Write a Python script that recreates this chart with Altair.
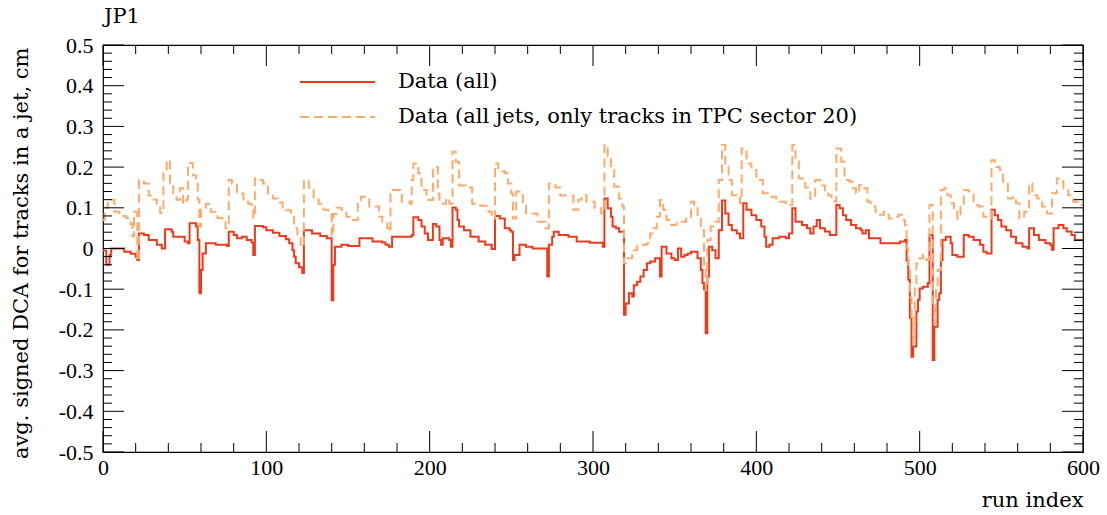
import altair as alt
import pandas as pd

# ---- data (run index, value) knots of step histograms ----
red_runs = [0,2,4,5,13,17,20,21,22,25,28,33,36,38,42,43,50,52,53,57,58,59,60,61,63,69,76,77,80,82,85,88,91,92,93,98,100,104,108,112,114,116,117,118,120,122,123,128,133,137,140,141,142,146,150,157,165,171,173,175,177,189,190,193,195,197,199,202,204,206,207,208,212,213,214,216,217,218,221,225,230,234,238,240,243,246,249,250,251,252,255,259,263,272,273,275,276,279,285,290,298,305,306,307,309,311,312,314,316,319,320,322,324,325,327,329,331,333,335,338,341,342,345,348,350,352,354,356,358,360,364,366,367,368,369,370,371,373,375,377,379,381,383,385,388,390,392,394,397,400,403,405,406,408,410,414,418,420,422,424,428,431,433,435,437,439,442,445,449,451,453,455,458,461,464,465,467,469,476,488,491,492,493,494,495,496,498,499,500,502,505,506,508,509,511,512,513,514,516,519,520,523,527,530,533,537,539,541,544,546,548,550,553,556,559,563,566,567,570,573,577,580,581,582,585,588,590,593,595,600]
red_vals = [-0.005,-0.04,-0.016,0.0,-0.008,-0.013,-0.02,-0.028,0.037,0.033,0.021,0.009,0.0,0.047,0.041,0.029,0.017,0.013,0.062,0.054,0.021,-0.11,-0.053,-0.012,0.013,0.009,0.006,0.041,0.033,0.025,0.029,0.021,0.015,-0.016,0.055,0.052,0.045,0.039,0.031,0.023,0.013,-0.004,-0.02,-0.036,-0.046,-0.06,0.045,0.037,0.031,0.025,-0.127,-0.04,0.004,0.009,0.006,0.025,0.017,0.015,0.009,0.004,0.029,0.033,0.077,0.07,0.054,0.037,0.021,0.06,0.054,0.021,0.009,0.025,0.021,0.004,0.101,0.095,0.07,0.054,0.045,0.029,0.017,0.009,-0.001,0.08,0.074,0.05,0.045,0.041,-0.028,-0.016,0.009,0.004,0.0,-0.069,0.009,0.029,0.041,0.033,0.029,0.017,0.014,0.014,0.004,0.123,0.099,0.078,0.054,0.05,0.041,-0.163,-0.135,-0.11,-0.118,-0.09,-0.082,-0.069,-0.053,-0.036,-0.032,-0.024,-0.069,0.004,-0.012,-0.024,-0.028,0.0,-0.02,-0.016,-0.012,-0.008,-0.024,-0.053,-0.085,-0.1,-0.208,-0.069,0.004,-0.004,-0.024,0.045,0.118,0.086,0.058,0.045,0.037,0.025,0.111,0.095,0.082,0.07,0.054,0.029,0.004,0.009,0.025,0.029,0.025,0.037,0.099,0.066,0.058,0.05,0.037,0.054,0.07,0.05,0.042,0.033,0.107,0.099,0.082,0.07,0.058,0.05,0.045,0.037,0.045,0.025,0.013,0.017,0.021,-0.03,-0.077,-0.17,-0.266,-0.241,-0.155,-0.126,-0.098,-0.094,-0.085,0.033,-0.274,-0.192,-0.126,-0.11,-0.028,0.021,0.029,0.013,-0.016,-0.02,0.033,0.029,0.021,0.009,-0.008,-0.012,0.095,0.082,0.07,0.054,0.045,0.029,0.013,0.004,0.0,0.05,0.033,0.021,0.013,0.009,-0.003,0.05,0.058,0.05,0.042,0.033,0.021,0.021]

orange_runs = [0,1,3,5,7,10,14,17,18,19,21,22,25,28,31,33,35,37,39,41,43,45,47,49,51,52,55,57,58,59,60,63,66,70,73,75,77,79,82,86,89,91,92,93,95,98,101,104,107,110,112,115,117,119,121,123,126,129,132,135,138,140,141,143,146,149,151,156,158,163,169,171,174,175,176,180,183,188,189,190,193,195,198,202,205,206,210,212,214,216,218,222,226,231,236,238,240,242,246,248,250,251,253,257,259,266,271,273,277,280,284,288,291,293,296,301,305,307,309,311,313,316,318,319,321,324,327,333,335,337,339,341,343,345,347,351,354,357,360,362,364,366,368,369,370,372,375,377,379,381,383,385,388,390,391,394,397,400,404,407,412,414,418,422,424,426,430,433,436,439,442,444,446,448,449,452,454,457,459,461,463,466,468,470,473,475,478,481,484,487,489,491,492,493,494,495,496,497,498,500,502,504,506,508,509,510,511,513,515,517,519,521,523,525,527,530,533,536,539,542,544,546,549,551,554,557,559,561,564,567,569,572,575,578,581,584,588,591,594,598,600]
orange_vals = [0.07,0.1,0.115,0.12,0.09,0.08,0.075,0.06,0.03,0.09,-0.03,0.168,0.16,0.13,0.12,0.11,0.087,0.185,0.217,0.16,0.135,0.12,0.148,0.11,0.12,0.21,0.18,0.16,0.12,0.054,0.1,0.11,0.09,0.075,0.065,0.05,0.168,0.16,0.135,0.115,0.11,0.094,0.075,0.172,0.168,0.16,0.135,0.123,0.113,0.1,0.094,0.078,0.05,0.025,0.005,0.168,0.15,0.12,0.11,0.095,0.09,0.03,0.085,0.1,0.095,0.078,0.07,0.115,0.127,0.103,0.078,0.066,0.05,0.041,0.144,0.144,0.115,0.11,0.168,0.209,0.185,0.144,0.119,0.2,0.135,0.11,0.123,0.11,0.238,0.213,0.155,0.15,0.11,0.105,0.09,0.074,0.209,0.19,0.185,0.16,0.135,0.074,0.14,0.11,0.086,0.066,0.05,0.16,0.15,0.13,0.13,0.095,0.12,0.131,0.115,0.099,0.086,0.254,0.226,0.193,0.152,0.123,0.103,-0.036,-0.024,-0.004,0.009,0.013,0.037,0.05,0.078,0.119,0.095,0.07,0.058,0.062,0.066,0.078,0.115,0.107,0.083,0.045,-0.044,-0.102,0.021,0.054,0.066,0.168,0.254,0.209,0.168,0.131,0.127,0.111,0.246,0.209,0.193,0.168,0.136,0.127,0.123,0.115,0.107,0.254,0.217,0.172,0.15,0.123,0.168,0.155,0.144,0.131,0.123,0.115,0.246,0.213,0.168,0.164,0.148,0.136,0.156,0.148,0.115,0.103,0.09,0.083,0.09,0.074,0.078,0.083,0.07,0.058,0.0,-0.053,-0.12,-0.176,-0.233,-0.085,-0.036,-0.024,-0.016,-0.028,0.107,-0.143,-0.184,-0.102,-0.053,0.144,0.148,0.131,0.111,0.099,0.074,0.103,0.144,0.14,0.107,0.103,0.078,0.074,0.217,0.2,0.193,0.16,0.123,0.127,0.111,0.074,0.09,0.16,0.131,0.123,0.103,0.086,0.136,0.172,0.148,0.131,0.115,0.107,0.107]

x_major = [0, 100, 200, 300, 400, 500, 600]
x_minor = [v for v in range(0, 601, 20) if v % 100 != 0]
y_major = [-0.5, -0.4, -0.3, -0.2, -0.1, 0.0, 0.1, 0.2, 0.3, 0.4, 0.5]
y_minor = [round(-0.5 + 0.02 * i, 2) for i in range(51) if i % 5 != 0]

series_names = ["Data (all)", "Data (all jets, only tracks in TPC sector 20)"]
chart_title = "JP1"

RED = "#ee3a1c"
ORANGE = "#fdaa6a"
NUM_FONT = "Liberation Serif"
TXT_FONT = "DejaVu Serif"
W, H = 980, 407
NFS = 22
TFS = 21

red_df = pd.DataFrame({"run": red_runs, "val": red_vals})
orange_df = pd.DataFrame({"run": orange_runs, "val": orange_vals})

xs = alt.Scale(domain=[0, 600], nice=False, zero=False)
ys = alt.Scale(domain=[-0.5, 0.5], nice=False, zero=False)

x_axis = alt.Axis(values=x_major, ticks=False, domain=False, grid=False,
                  labelFont=NUM_FONT, labelFontSize=NFS, labelColor="black", labelPadding=5,
                  labelFlush=False, title="run index", titleFont=TXT_FONT, titleFontSize=TFS,
                  titleFontWeight="normal", titleColor="black", titleAnchor="end",
                  titleAlign="right", titleX=W, titleY=48, titleBaseline="middle")
y_axis = alt.Axis(values=y_major, ticks=False, domain=False, grid=False,
                  labelFont=NUM_FONT, labelFontSize=NFS, labelColor="black", labelPadding=10,
                  labelFlush=False,
                  labelExpr="datum.value == 0 ? '0' : toString(round(datum.value*10)/10)",
                  title="avg. signed DCA for tracks in a jet, cm", titleFont=TXT_FONT,
                  titleFontSize=TFS, titleFontWeight="normal", titleColor="black",
                  titleAngle=-90, titleAlign="right", titleBaseline="middle",
                  titleX=-82, titleY=2)

red_line = alt.Chart(red_df).mark_line(interpolate="step-after", color=RED, strokeWidth=2).encode(
    x=alt.X("run:Q", scale=xs, axis=x_axis),
    y=alt.Y("val:Q", scale=ys, axis=y_axis),
)
orange_line = alt.Chart(orange_df).mark_line(interpolate="step-after", color=ORANGE,
                                             strokeWidth=2, strokeDash=[9, 5]).encode(
    x=alt.X("run:Q", scale=xs),
    y=alt.Y("val:Q", scale=ys),
)

xmaj = pd.DataFrame({"p": x_major})
xmin = pd.DataFrame({"p": x_minor})
ymaj = pd.DataFrame({"p": y_major})
ymin = pd.DataFrame({"p": y_minor})

def xticks(df, length):
    top = alt.Chart(df).mark_rule(color="black", strokeWidth=1).encode(
        x=alt.X("p:Q", scale=xs), y=alt.value(0), y2=alt.value(length))
    bot = alt.Chart(df).mark_rule(color="black", strokeWidth=1).encode(
        x=alt.X("p:Q", scale=xs), y=alt.value(H), y2=alt.value(H - length))
    return [top, bot]

def yticks(df, length):
    left = alt.Chart(df).mark_rule(color="black", strokeWidth=1).encode(
        y=alt.Y("p:Q", scale=ys), x=alt.value(0), x2=alt.value(length))
    right = alt.Chart(df).mark_rule(color="black", strokeWidth=1).encode(
        y=alt.Y("p:Q", scale=ys), x=alt.value(W), x2=alt.value(W - length))
    return [left, right]

ticks = xticks(xmaj, 21) + xticks(xmin, 9) + yticks(ymaj, 21) + yticks(ymin, 9)

leg_df = pd.DataFrame({"name": series_names})
leg_red = alt.Chart(leg_df.iloc[[0]]).mark_rule(color=RED, strokeWidth=2).encode(
    x=alt.value(197), x2=alt.value(272), y=alt.value(37))
leg_orange = alt.Chart(leg_df.iloc[[1]]).mark_rule(color=ORANGE, strokeWidth=2, strokeDash=[9, 5]).encode(
    x=alt.value(197), x2=alt.value(272), y=alt.value(72))
leg_t1 = alt.Chart(leg_df.iloc[[0]]).mark_text(align="left", baseline="middle", font=TXT_FONT,
                                               fontSize=TFS, color="black").encode(
    x=alt.value(295), y=alt.value(37), text="name:N")
leg_t2 = alt.Chart(leg_df.iloc[[1]]).mark_text(align="left", baseline="middle", font=TXT_FONT,
                                               fontSize=TFS, color="black").encode(
    x=alt.value(295), y=alt.value(72), text="name:N")

title_df = pd.DataFrame({"t": [chart_title]})
title_mark = alt.Chart(title_df).mark_text(align="left", baseline="middle", font=TXT_FONT,
                                           fontSize=TFS, color="black").encode(
    x=alt.value(1), y=alt.value(-28), text="t:N")

chart = alt.layer(red_line, orange_line, *ticks, leg_red, leg_orange, leg_t1, leg_t2, title_mark).properties(
    width=W, height=H,
    autosize=alt.AutoSizeParams(type="none"),
    padding={"left": 103, "top": 45, "right": 24, "bottom": 63},
    background="white",
).configure_view(stroke="black", strokeWidth=1.2)

chart.save("out.html", embed_options={"renderer": "svg", "actions": False})
